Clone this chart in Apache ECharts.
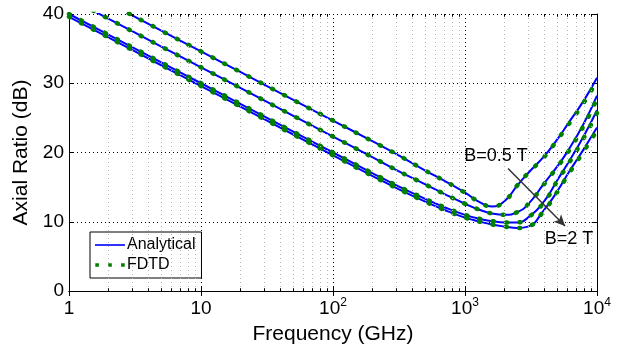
<!DOCTYPE html>
<html><head><meta charset="utf-8">
<script src="https://cdn.jsdelivr.net/npm/echarts@6/dist/echarts.min.js"></script>
<style>html,body{margin:0;padding:0;background:#fff}#c{width:621px;height:350px}</style>
</head><body><div id="c"></div>
<script>
// Frequency samples (GHz)
const freqGHz = [1, 2, 5, 10, 20, 50, 100, 200, 300, 500, 700, 1000, 1300, 1600, 2000, 2500, 3000, 4000, 5000, 6000, 8000, 10000];
// Analytical axial ratio (dB)
const anaB05 = [44.6, 41.6, 37.6, 34.6, 31.6, 27.6, 24.6, 21.6, 19.8, 17.4, 15.9, 14.2, 12.8, 12.2, 13.0, 15.3, 17.0, 19.5, 21.9, 24.1, 27.6, 30.8];
const anaB10 = [42.3, 39.3, 35.3, 32.3, 29.3, 25.3, 22.3, 19.3, 17.5, 15.4, 14.0, 12.6, 11.7, 11.2, 11.0, 11.4, 12.5, 15.6, 18.0, 20.2, 24.3, 28.2];
const anaB15 = [40.0, 37.0, 33.0, 30.0, 27.0, 23.0, 20.0, 17.0, 15.3, 13.3, 12.1, 11.0, 10.4, 10.1, 9.9, 9.9, 10.6, 13.0, 16.0, 18.4, 22.5, 26.1];
const anaB20 = [39.6, 36.6, 32.6, 29.6, 26.6, 22.6, 19.6, 16.6, 14.9, 12.9, 11.7, 10.6, 10.0, 9.6, 9.3, 9.1, 9.3, 11.8, 14.4, 16.9, 20.6, 23.6];
// FDTD axial ratio (dB)
const fdtdB05 = [44.6, 41.6, 37.6, 34.6, 31.6, 27.6, 24.6, 21.6, 19.8, 17.4, 15.9, 14.2, 12.8, 12.2, 13.0, 15.3, 17.0, 19.4, 21.8, 23.9, 27.3, 30.4];
const fdtdB10 = [42.3, 39.3, 35.3, 32.3, 29.3, 25.3, 22.3, 19.3, 17.5, 15.4, 14.0, 12.6, 11.7, 11.2, 11.0, 11.4, 12.5, 15.5, 17.9, 20.0, 24.0, 27.8];
const fdtdB15 = [40.0, 37.0, 33.0, 30.0, 27.0, 23.0, 20.0, 17.0, 15.3, 13.3, 12.1, 11.0, 10.4, 10.1, 9.9, 9.9, 10.6, 12.9, 15.9, 18.2, 22.2, 25.7];
const fdtdB20 = [39.6, 36.6, 32.6, 29.6, 26.6, 22.6, 19.6, 16.6, 14.9, 12.9, 11.7, 10.6, 10.0, 9.6, 9.3, 9.1, 9.3, 11.7, 14.3, 16.7, 20.3, 23.2];
// Axis ticks
const xMin = 1, xMax = 10000;
const yTicks = [0, 10, 20, 30, 40];
const minorX = [];
for (let k = 0; k < 4; k++) for (let m = 2; m <= 9; m++) minorX.push(m * Math.pow(10, k));
// Annotations [freq, dB]
const labelB05 = {text: 'B=0.5 T', at: [1718, 19.45]};
const labelB20 = {text: 'B=2 T', at: [6138, 7.5]};
const arrowFrom = [2118, 17.7], arrowTo = [5726, 9.4];

const FONT = 'Liberation Sans, Arial, Helvetica, sans-serif';
const chart = echarts.init(document.getElementById('c'));

const anaSets = [anaB05, anaB10, anaB15, anaB20];
const fdtdSets = [fdtdB05, fdtdB10, fdtdB15, fdtdB20];
const pair = arr => freqGHz.map((f, i) => [f, arr[i]]);

const series = [];
series.push({
  type: 'line', name: 'grid', data: [], symbol: 'none', z: 1, silent: true, animation: false,
  markLine: {
    silent: true, animation: false, symbol: ['none', 'none'], label: {show: false},
    lineStyle: {color: '#b4b4b4', type: [1, 3], width: 1},
    data: minorX.map(v => [{coord: [v, 0]}, {coord: [v, 40]}])
  }
});
series.push({
  type: 'line', name: 'ticks', data: [], symbol: 'none', z: 6, silent: true, animation: false,
  markLine: {
    silent: true, animation: false, symbol: ['none', 'none'], label: {show: false},
    lineStyle: {color: '#000', type: 'solid', width: 1},
    data: minorX.map(v => [{coord: [v, 0]}, {coord: [v, 0.4]}]).concat(minorX.map(v => [{coord: [v, 39.6]}, {coord: [v, 40]}]))
  }
});
anaSets.forEach(a => series.push({
  type: 'line', name: 'Analytical', data: pair(a), symbol: 'none', showSymbol: false, smooth: 0.5,
  lineStyle: {color: '#0000ff', width: 2}, itemStyle: {color: '#0000ff'}, z: 3, animation: false
}));
fdtdSets.forEach(a => series.push({
  type: 'line', name: 'FDTD', data: pair(a), symbol: 'none', showSymbol: false, smooth: 0.5,
  lineStyle: {color: '#008000', width: 4.5, type: [1, 12.5], cap: 'round'}, itemStyle: {color: '#008000'}, z: 4, animation: false
}));
series.push({
  type: 'line', name: 'annot', data: [], symbol: 'none', z: 7, silent: true, animation: false,
  markLine: {
    silent: true, animation: false, symbol: ['none', 'arrow'], symbolSize: [8, 11], label: {show: false},
    lineStyle: {color: '#333', type: 'solid', width: 1.5},
    data: [[{coord: arrowFrom}, {coord: arrowTo}]]
  },
  markPoint: {
    silent: true, animation: false, symbol: 'circle', symbolSize: 0,
    label: {show: true, position: 'inside', formatter: '{b}', color: '#000', fontSize: 18, fontFamily: FONT},
    data: [labelB05, labelB20].map(l => ({name: l.text, coord: l.at}))
  }
});

const supLabel = v => {
  const e = Math.round(Math.log10(v));
  if (e === 0) return '{b|1}';
  if (e === 1) return '{b|10}';
  return '{b|10}{s|' + e + '}';
};

const iconLine = 'path://M0,0M30,14M0,6.2h30v1.6h-30z';
const iconDots = 'path://M0,0M30,14M0.3,5.2h3.6v3.6h-3.6zM13.2,5.2h3.6v3.6h-3.6zM26.1,5.2h3.6v3.6h-3.6z';

chart.setOption({
  animation: false,
  backgroundColor: '#fff',
  textStyle: {fontFamily: FONT},
  grid: {left: 69, right: 24, top: 14, bottom: 59, containLabel: false},
  legend: {
    data: [{name: 'Analytical', icon: iconLine}, {name: 'FDTD', icon: iconDots}],
    orient: 'vertical', left: 90, top: 232,
    backgroundColor: '#fff', borderColor: '#000', borderWidth: 1, padding: [5, 6, 5, 5],
    itemWidth: 30, itemHeight: 14, itemGap: 4,
    textStyle: {fontSize: 16, color: '#000', fontFamily: FONT, padding: [0, 0, 0, -3]}
  },
  xAxis: [{
    type: 'log', logBase: 10, min: xMin, max: xMax, splitNumber: 4,
    name: 'Frequency (GHz)', nameLocation: 'middle', nameGap: 24,
    nameTextStyle: {fontSize: 21, color: '#000', fontFamily: FONT},
    axisLine: {show: true, lineStyle: {color: '#000', width: 1}},
    axisTick: {show: true, inside: true, length: 5, lineStyle: {color: '#000'}},
    axisLabel: {
      show: true, margin: 6, color: '#000', formatter: supLabel,
      rich: {
        b: {fontSize: 19, lineHeight: 24, color: '#000', fontFamily: FONT},
        s: {fontSize: 12, lineHeight: 12, verticalAlign: 'top', color: '#000', fontFamily: FONT}
      }
    },
    splitLine: {show: true, lineStyle: {color: '#000', type: [1, 3], width: 1}},
    minorTick: {show: false}, minorSplitLine: {show: false}
  }, {
    type: 'log', logBase: 10, min: xMin, max: xMax, splitNumber: 4, position: 'top',
    axisLine: {show: true, lineStyle: {color: '#000', width: 1}},
    axisTick: {show: true, inside: true, length: 5, lineStyle: {color: '#000'}},
    axisLabel: {show: false}, splitLine: {show: false}
  }],
  yAxis: [{
    type: 'value', min: 0, max: 40, interval: 10,
    name: 'Axial Ratio (dB)', nameLocation: 'middle', nameGap: 31,
    nameTextStyle: {fontSize: 21, color: '#000', fontFamily: FONT},
    axisLine: {show: true, lineStyle: {color: '#000', width: 1}},
    axisTick: {show: true, inside: true, length: 5, lineStyle: {color: '#000'}},
    axisLabel: {show: true, margin: 5, fontSize: 19, color: '#000', fontFamily: FONT,
      formatter: v => yTicks.includes(v) ? String(v) : ''},
    splitLine: {show: true, lineStyle: {color: '#000', type: [1, 3], width: 1}}
  }, {
    type: 'value', min: 0, max: 40, interval: 10, position: 'right',
    axisLine: {show: true, lineStyle: {color: '#000', width: 1}},
    axisTick: {show: true, inside: true, length: 5, lineStyle: {color: '#000'}},
    axisLabel: {show: false}, splitLine: {show: false}
  }],
  series: series
});
</script>
</body></html>
